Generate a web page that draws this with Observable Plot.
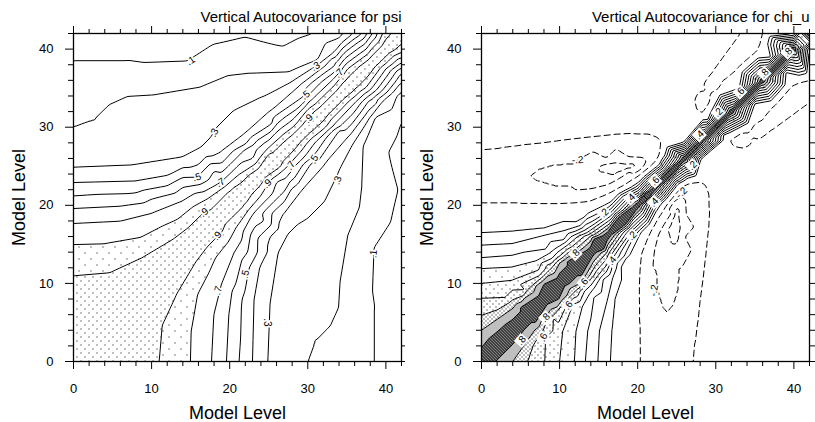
<!DOCTYPE html>
<html><head><meta charset="utf-8">
<script src="https://cdn.jsdelivr.net/npm/d3@7"></script>
<script src="https://cdn.jsdelivr.net/npm/@observablehq/plot@0.6"></script>
<style>
html,body{margin:0;padding:0;background:#fff;}
#wrap{display:flex;width:815px;height:422px;overflow:hidden;background:#fff;}
#wrap svg{overflow:visible;flex:none;}
</style></head><body>
<svg width="0" height="0" style="position:absolute;left:0;top:0">
<defs>
<pattern id="psiSparse" patternUnits="userSpaceOnUse" width="12" height="12"><rect width="12" height="12" fill="#fff"/><rect x="0" y="0" width="1" height="1" fill="#000"/><rect x="6" y="6" width="1" height="1" fill="#000"/></pattern>
<pattern id="psiDense" patternUnits="userSpaceOnUse" width="8" height="8"><rect width="8" height="8" fill="#fff"/><rect x="0" y="0" width="1" height="1" fill="#000"/><rect x="4" y="4" width="1" height="1" fill="#000"/></pattern>
<pattern id="chi4" patternUnits="userSpaceOnUse" width="12" height="12"><rect width="12" height="12" fill="#fff"/><rect x="0" y="0" width="1" height="1" fill="#000"/><rect x="6" y="6" width="1" height="1" fill="#000"/></pattern>
<pattern id="chi5" patternUnits="userSpaceOnUse" width="8" height="8"><rect width="8" height="8" fill="#fff"/><rect x="0" y="0" width="1" height="1" fill="#000"/><rect x="4" y="4" width="1" height="1" fill="#000"/></pattern>
<pattern id="chi6" patternUnits="userSpaceOnUse" width="6" height="6"><rect width="6" height="6" fill="#fff"/><rect x="0" y="0" width="1" height="1" fill="#000"/><rect x="3" y="3" width="1" height="1" fill="#000"/></pattern>
<pattern id="chi7" patternUnits="userSpaceOnUse" width="4" height="4"><rect width="4" height="4" fill="#fff"/><rect x="0" y="0" width="1" height="1" fill="#000"/><rect x="2" y="2" width="1" height="1" fill="#000"/></pattern>
<pattern id="chi8" patternUnits="userSpaceOnUse" width="4" height="2"><rect width="4" height="2" fill="#fff"/><rect x="0" y="0" width="1" height="1" fill="#000"/><rect x="2" y="1" width="1" height="1" fill="#000"/></pattern>
<pattern id="chi9" patternUnits="userSpaceOnUse" width="3" height="3"><rect width="3" height="3" fill="#000"/><rect x="2" y="0" width="1" height="1" fill="#fff"/><rect x="0" y="1" width="1" height="1" fill="#fff"/><rect x="1" y="2" width="1" height="1" fill="#fff"/></pattern>
</defs></svg>
<div id="wrap"></div>
<script>
// ---------------- DATA ----------------
const majorTicks = [0, 10, 20, 30, 40];
const minorTicks = [2, 4, 6, 8, 12, 14, 16, 18, 22, 24, 26, 28, 32, 34, 36, 38, 42];
const diagLevels = [0, 2, 4, 6, 8, 10, 12, 14, 16, 18, 20, 22, 24, 26, 28, 30, 32, 34, 36, 38, 40, 42];

// psi: contour lines read in the upper-left half (matrix is symmetric)
const psiLevels = [0.1, 0.2, 0.3, 0.4, 0.5, 0.6, 0.7, 0.8, 0.9];
const psi01 = [[0,38.5],[6.9,38.5],[9,38.2],[14.6,38.4],[18,40.6],[26.9,40.2],[29,41.3],[31.2,42]];
const psi02 = [[0,30],[3,30.5],[4.7,33],[6.9,34],[10.3,34.2],[16.3,35.2],[19.7,36.6],[22.3,36.9],[27.8,37.1],[31.2,38.5],[34.2,41.5],[34.6,42]];
const psi03 = [[0,24.8],[7.7,25.1],[14,26.1],[16.5,27.2],[17.5,28.5],[18.4,30],[20.5,32.1],[24,33.8],[28.2,36],[31,37.8],[33.3,39.5],[35.8,42]];
const psi04 = [[0,22.9],[8,23.1],[12,23.8],[16,25.2],[19,26.9],[22,29.2],[25,31.9],[29,35.4],[33,38.8],[37,42]];
const psi05 = [[0,21.2],[8,21.6],[12,22.5],[15.8,23.6],[19,25.4],[22,27.8],[25.5,30.5],[29.7,34.1],[33.5,37.9],[37.6,42]];
const psi06 = [[0,19.6],[6,19.9],[10,20.8],[14,22.3],[18,24.4],[22,27.2],[26,30.4],[30,34],[34,37.8],[38.3,42]];
const psi07 = [[0,17.7],[6,18],[10,19],[14,20.6],[18.8,22.9],[23,26],[28,30.9],[33,35.9],[38.9,42]];
const psi08 = [[0,15],[4,15.1],[8.6,15.9],[13.3,18.2],[17.1,20.8],[21,23.8],[25,27.4],[30,32.3],[35,37.4],[39.6,42]];
const psi09 = [[0,11],[4.7,11.4],[8.6,13.2],[12.8,15.7],[16.7,19.1],[20,21.9],[25,26.6],[30,31.2],[35,36.3],[40.6,42]];
const psiAnchors = [[0,42,0.05],[12,42,0.07],[22,42,0.09]];
const psiDiagValue = 1.0;
const psiLabels = [
  [15,38.5,".1"],[31,37.8,".3"],[29.7,34.1,".5"],[34,36.9,".7"],[30.1,31.1,".9"],
  [18,29.3,".3"],[15.8,23.6,".5"],[18.8,22.9,".7"],[16.7,19.1,".9"],
  [18.4,16.1,".9"],[24.8,22.8,".9"],[27.8,25.1,".7"],[30.8,25.9,".5"],[33.8,23.2,".3"],
  [38.4,13.8,".1"],[18.5,9.1,".7"],[22,11.2,".5"],[24.8,5,".3"]
];
const psiLabelRotate = [-33,-30,-40,-45,-45,-62,-17,-33,-40,-50,-45,-55,-60,-70,-85,-72,-76,90];

// chi_u: contour lines read in the upper-left half (matrix is symmetric)
const chiLevels = [0.1, 0.2, 0.3, 0.4, 0.5, 0.6, 0.7, 0.8, 0.9];
const chi01 = [[0,16.5],[4,16.7],[8,17.1],[12.1,17.9],[15.9,20.1],[19.45,22.55],[22.75,25.25],[25.9,28.1],[29,31],[33,35],[37,39],[40,42]];
const chi02 = [[0,14.9],[3.9,15.1],[8.2,16.2],[10.7,16.8],[12.6,17.4],[16.25,19.75],[19.7,22.3],[22.95,25.05],[26.05,27.95],[29.13,30.88],[33.13,34.88],[37.13,38.88],[40.25,42]];
const chi03 = [[0,13.3],[3.9,13.6],[8.2,14.4],[10.5,15.6],[12.9,17.1],[16.5,19.5],[19.9,22.1],[23.1,24.9],[26.2,27.8],[29.25,30.75],[33.25,34.75],[37.25,38.75],[40.5,42]];
const chi04 = [[0,11.9],[3.9,12.1],[7,12.9],[9.5,14.5],[11.5,16],[13.2,16.8],[16.75,19.25],[20.1,21.9],[23.25,24.75],[26.35,27.65],[29.38,30.63],[33.38,34.63],[37.38,38.63],[40.75,42]];
const chi05 = [[0,10],[3.9,10.4],[7.3,11.7],[9,13.2],[11,14.9],[13.5,16.5],[16.95,19.05],[20.25,21.75],[23.4,24.6],[26.45,27.55],[29.5,30.5],[33.5,34.5],[37.5,38.5],[41,42]];
const chi06 = [[0,8.1],[3,8.2],[5.5,9.2],[7.4,11],[10,13.5],[13.75,16.25],[17.1,18.9],[20.4,21.6],[23.5,24.5],[26.55,27.45],[29.6,30.4],[33.6,34.4],[37.6,38.4],[41.2,42]];
const chi07 = [[0,5.9],[2,6.6],[4,7.9],[6,9.3],[9,12],[13.95,16.05],[17.25,18.75],[20.5,21.5],[23.6,24.4],[26.65,27.35],[29.7,30.3],[33.7,34.3],[37.7,38.3],[41.4,42]];
const chi08 = [[0,4],[2,5.4],[4,6.8],[7,9.7],[10,12.6],[14.15,15.85],[17.4,18.6],[20.6,21.4],[23.7,24.3],[26.75,27.25],[29.8,30.2],[33.8,34.2],[37.8,38.2],[41.6,42]];
const chi09 = [[0,1.8],[2,3.8],[5,6.9],[8,9.9],[11,12.8],[14.35,15.65],[17.55,18.45],[20.7,21.3],[23.8,24.2],[26.85,27.15],[29.88,30.13],[33.9,34.1],[37.9,38.1],[41.8,42]];
const chiNegLevels = [-0.1, -0.2, -0.3];
const chiM01a = [[0,20.2],[2.5,20.2],[5,20.2],[7.5,20.2],[10,20.2],[12,20.3],[14,20.5],[15.5,21.1],[17,21.8],[18.3,22.5],[19.5,23.3],[20.5,24],[21.5,24.8],[22.3,25.6],[22.9,26.5],[23.3,27.8],[22.6,28.6],[21.3,29.1],[19.4,29.1],[17.4,29],[15.5,28.8],[13.6,28.6],[11,28.3],[8,27.9],[5,27.6],[2.4,27.3],[0,27.1]];
const chiM01b = [[33.2,42],[31.9,40.2],[30.6,38.4],[29.5,36.9],[28.5,35.5],[27.8,34.5],[27.3,33.5],[27.6,32.1],[28.4,31.6],[29.5,33.3],[30.2,34.6],[31,35.8],[32.8,37.3],[34,38.4],[35.3,39.5],[35.9,40.8],[36.2,42]];
const chiM02 = [[5.5,23.8],[7,25],[9,25.6],[12.3,25.8],[16,26],[19,26.1],[20.8,26],[21.5,25.6],[20.8,25.1],[19,24.4],[17.5,23.4],[16,22.6],[14,22.1],[12,21.9],[9,22.1],[6.6,22.8]];
const chiM03 = [[14.2,24.4],[15,25.2],[17,25.5],[19.5,25.5],[20.2,25.1],[19.3,24.6],[17,23.8],[15,23.8]];
const chiAnchors = [
  [17.3,24.6,-0.34],[18.5,24.9,-0.34],[0,23.5,-0.13],[2.5,23.5,-0.14],
  [29.9,35.8,-0.12],[31.6,37.8,-0.12],[33.3,39.5,-0.12],[34.7,42,-0.12],[28.3,33.2,-0.11],
  [0,31,-0.06],[0,36,-0.05],[0,42,-0.03],[8,33,-0.06],[8,42,-0.03],
  [16,33,-0.07],[16,42,-0.04],[24,38,-0.06],[25,42,-0.05],[24,31,-0.06]
];
const chiDiagValue = 1.0;
const chiShadeLevels = [0.4, 0.5, 0.6, 0.7, 0.8, 0.9];
const chiBoxLabels = [
  [39.2,39.6,".8"],[36.2,36.9,".8"],[33.1,34.5,".6"],[30.3,31.9,".2"],[27.9,29,".4"],
  [27,25.1,".2"],[22.2,23.1,".6"],[19.1,20.9,".4"],[22.1,20.4,".4"],[15.7,19,".2"],
  [19.3,16.1,".2"],[16.7,12.9,".4"],[12,13.8,".8"],[13.1,10.1,".6"],[11.1,7.2,".6"],
  [8.2,5.6,".8"],[7.9,3.1,".6"],[5.1,2.7,".8"]
];
const chiBoxRotate = [-45,-45,-45,-45,-45,-45,-45,-45,-45,-45,-45,-50,-45,-50,-50,-45,-65,-50];
const chiDashLabels = [[12.3,25.8,"-.2"],[22.1,9.1,"-.2"],[25.6,21.6,"-.2"]];
const chiDashRotate = [-3,-80,-45];

// ---------------- BUILD ----------------
const eps = 1e-6;
function buildSamples(lines, levels, anchors, diagValue) {
  const pts = [];
  lines.forEach((line, i) => line.forEach(([x, y]) => {
    pts.push({x, y, v: levels[i]});
    pts.push({x: y, y: x, v: levels[i]});
  }));
  anchors.forEach(([x, y, v]) => { pts.push({x, y, v}); pts.push({x: y, y: x, v}); });
  diagLevels.forEach(t => pts.push({x: t, y: t, v: diagValue}));
  return pts;
}
const psiPts = buildSamples([psi01,psi02,psi03,psi04,psi05,psi06,psi07,psi08,psi09], psiLevels, psiAnchors, psiDiagValue);
const chiPts = buildSamples(
  [chi01,chi02,chi03,chi04,chi05,chi06,chi07,chi08,chi09,chiM01a,chiM01b,chiM02,chiM03],
  [...chiLevels, -0.1, -0.1, -0.2, -0.3], chiAnchors, chiDiagValue);

const toObj = (arr, rot) => arr.map(([x, y, t], i) => ({x, y, t, r: rot[i]}));
const FONT = "'Liberation Sans', Arial, Helvetica, sans-serif";

function contourOpts(extra) {
  return Object.assign({x: "x", y: "y", value: "v", interpolate: "barycentric", pixelSize: 1}, extra);
}
function frameMarks(title) {
  return [
    Plot.frame({stroke: "black", strokeWidth: 1.3}),
    Plot.axisX({anchor: "bottom", ticks: majorTicks, tickSize: 8, tickPadding: 14, label: null, fontSize: 13}),
    Plot.axisX({anchor: "bottom", ticks: minorTicks, tickSize: 5, tickFormat: () => "", label: null}),
    Plot.axisX({anchor: "top", ticks: majorTicks, tickSize: 8, tickFormat: () => "", label: null}),
    Plot.axisX({anchor: "top", ticks: minorTicks, tickSize: 5, tickFormat: () => "", label: null}),
    Plot.axisY({anchor: "left", ticks: majorTicks, tickSize: 8, tickPadding: 12, label: null, fontSize: 13}),
    Plot.axisY({anchor: "left", ticks: minorTicks, tickSize: 5, tickFormat: () => "", label: null}),
    Plot.axisY({anchor: "right", ticks: majorTicks, tickSize: 8, tickFormat: () => "", label: null}),
    Plot.axisY({anchor: "right", ticks: minorTicks, tickSize: 5, tickFormat: () => "", label: null}),
    Plot.text([title], {frameAnchor: "top-right", textAnchor: "end", lineAnchor: "bottom", dy: -12, fontSize: 15, fill: "black"}),
    Plot.text(["Model Level"], {frameAnchor: "bottom", textAnchor: "middle", lineAnchor: "bottom", dy: 57, fontSize: 18, fill: "black"}),
    Plot.text(["Model Level"], {frameAnchor: "left", textAnchor: "middle", lineAnchor: "bottom", rotate: -90, dx: -49, fontSize: 18, fill: "black"})
  ];
}
const common = {
  height: 422, marginTop: 33, marginBottom: 61,
  x: {domain: [0, 42], label: null},
  y: {domain: [0, 42], label: null},
  style: {fontFamily: FONT, fontSize: "13px", color: "black", background: "white", overflow: "visible"}
};

const left = Plot.plot(Object.assign({}, common, {
  width: 405, marginLeft: 73, marginRight: 4,
  marks: [
    Plot.contour(psiPts, contourOpts({thresholds: [0.8 + eps], fill: "url(#psiSparse)", stroke: "none", blur: 1})),
    Plot.contour(psiPts, contourOpts({thresholds: [0.9 + eps], fill: "url(#psiDense)", stroke: "none", blur: 1})),
    Plot.contour(psiPts, contourOpts({thresholds: psiLevels.map(l => l + eps), fill: "none", stroke: "black", strokeWidth: 1, blur: 1})),
    Plot.text(toObj(psiLabels, psiLabelRotate), {x: "x", y: "y", text: "t", rotate: "r", fontSize: 10, fill: "black", stroke: "white", strokeWidth: 3.5, paintOrder: "stroke"}),
    ...frameMarks("Vertical Autocovariance for psi")
  ]
}));

const right = Plot.plot(Object.assign({}, common, {
  width: 410, marginLeft: 76, marginRight: 6,
  marks: [
    ...chiShadeLevels.map(l => Plot.contour(chiPts, contourOpts({thresholds: [l + eps], fill: `url(#chi${Math.round(l * 10)})`, stroke: "none"}))),
    Plot.contour(chiPts, contourOpts({thresholds: chiLevels.map(l => l + eps), fill: "none", stroke: "black", strokeWidth: 1})),
    Plot.contour(chiPts, contourOpts({thresholds: chiNegLevels.map(l => l + eps), fill: "none", stroke: "black", strokeWidth: 1, strokeDasharray: "7,3", blur: 1})),
    Plot.dot(toObj(chiBoxLabels, chiBoxRotate), {x: "x", y: "y", symbol: "square", r: 6, fill: "white", stroke: "none", rotate: "r"}),
    Plot.text(toObj(chiBoxLabels, chiBoxRotate), {x: "x", y: "y", text: "t", rotate: "r", fontSize: 10, fill: "black"}),
    Plot.text(toObj(chiDashLabels, chiDashRotate), {x: "x", y: "y", text: "t", rotate: "r", fontSize: 10, fill: "black", stroke: "white", strokeWidth: 3.5, paintOrder: "stroke"}),
    ...frameMarks("Vertical Autocovariance for chi_u")
  ]
}));

const wrap = document.getElementById("wrap");
wrap.appendChild(left);
wrap.appendChild(right);
</script>
</body></html>
